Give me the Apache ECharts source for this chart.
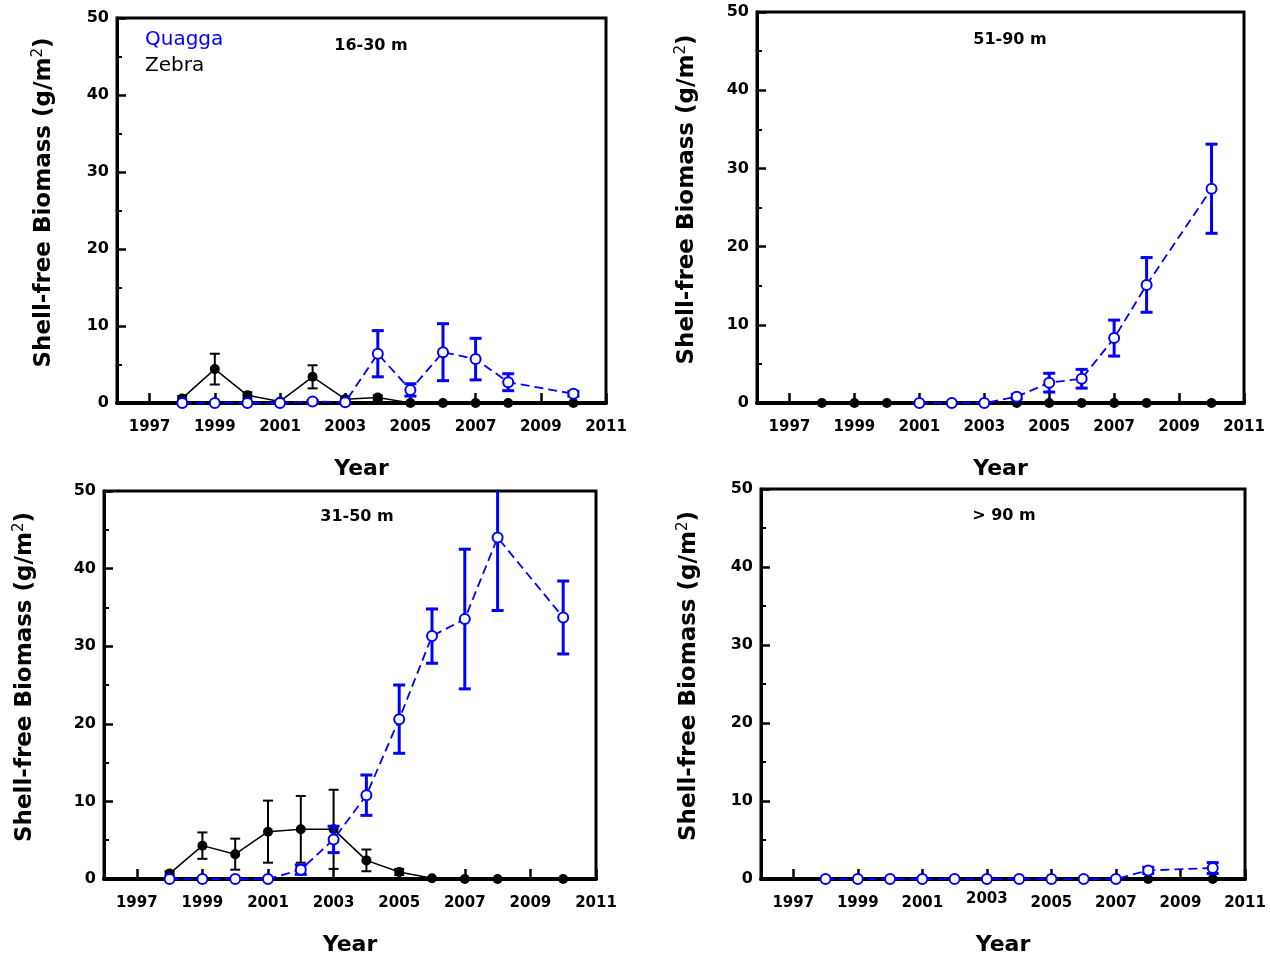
<!DOCTYPE html>
<html><head><meta charset="utf-8">
<script src="https://cdn.jsdelivr.net/npm/echarts@6/dist/echarts.min.js"></script>
<style>html,body{margin:0;padding:0;background:#fff}#c{width:1270px;height:961px}</style>
</head><body><div id="c"></div>
<script>
// ---- data ----
const years = [1998,1999,2000,2001,2002,2003,2004,2005,2006,2007,2008,2010];
const xTickYears = [1997,1999,2001,2003,2005,2007,2009,2011];
const panelTitles = ['16-30 m','51-90 m','31-50 m','> 90 m'];
const legendNames = ['Quagga','Zebra'];
const yAxisTitle = 'Shell-free Biomass (g/m{s|2})';
const xAxisTitle = 'Year';

// 16-30 m
const zebra16     = [0.6, 4.4, 1.0, 0.2, 3.4, 0.5, 0.7, 0, 0, 0, 0, 0];
const zebra16Err  = [0.3, 2.0, 0.4, 0, 1.5, 0.3, 0.3, 0, 0, 0, 0, 0];
const quagga16    = [0, 0, 0, 0, 0.2, 0.1, 6.4, 1.7, 6.6, 5.7, 2.7, 1.2];
const quagga16Err = [0, 0, 0, 0, 0.1, 0, 3.0, 0.8, 3.7, 2.7, 1.1, 0.3];
// 51-90 m
const zebra51     = [0, 0, 0, 0, 0, 0, 0, 0, 0, 0, 0, 0];
const zebra51Err  = [0, 0, 0, 0, 0, 0, 0, 0, 0, 0, 0, 0];
const quagga51    = [null, null, null, 0, 0, 0, 0.8, 2.6, 3.1, 8.3, 15.1, 27.4];
const quagga51Err = [0, 0, 0, 0, 0, 0, 0.3, 1.2, 1.2, 2.3, 3.5, 5.7];
// 31-50 m
const zebra31     = [0.7, 4.3, 3.2, 6.1, 6.4, 6.4, 2.4, 0.9, 0.1, 0, 0, 0];
const zebra31Err  = [0.3, 1.7, 2.0, 4.0, 4.3, 5.1, 1.4, 0.4, 0, 0, 0, 0];
const quagga31    = [0, 0, 0, 0, 1.2, 5.1, 10.8, 20.6, 31.3, 33.5, 44.0, 33.7];
const quagga31Err = [0, 0, 0, 0, 0.6, 1.7, 2.6, 4.4, 3.5, 9.0, 9.4, 4.7];
// > 90 m
const zebra90     = [0, 0, 0, 0, 0, 0, 0, 0, 0, 0, 0, 0];
const zebra90Err  = [0, 0, 0, 0, 0, 0, 0, 0, 0, 0, 0, 0];
const quagga90    = [0, 0, 0, 0, 0, 0, 0, 0, 0, 0, 1.1, 1.4];
const quagga90Err = [0, 0, 0, 0, 0, 0, 0, 0, 0, 0, 0.4, 0.7];

const panelsData = [
  {z: zebra16, ze: zebra16Err, q: quagga16, qe: quagga16Err},
  {z: zebra51, ze: zebra51Err, q: quagga51, qe: quagga51Err},
  {z: zebra31, ze: zebra31Err, q: quagga31, qe: quagga31Err},
  {z: zebra90, ze: zebra90Err, q: quagga90, qe: quagga90Err}
];

// ---- layout / style ----
const BLUE = '#0000ff';
const FONT = 'DejaVu Sans';
const YMIN = 0, YMAX = 50;
const grids = [
  {left: 117, top: 18, width: 489, height: 385},
  {left: 757, top: 12, width: 487, height: 391},
  {left: 104, top: 491, width: 492, height: 388},
  {left: 761, top: 489, width: 484, height: 390}
];
const yNameGaps = [59, 56, 65, 58];
const titlePos = [[371, 46], [1010, 40], [357, 517], [1004, 516]];

function pairs(vals) {
  const out = [];
  years.forEach((yr, i) => { if (vals[i] !== null) out.push([yr, vals[i]]); });
  return out;
}
function triples(vals, errs) {
  const out = [];
  years.forEach((yr, i) => { if (vals[i] !== null && errs[i] > 0) out.push([yr, vals[i], errs[i]]); });
  return out;
}
function errRender(color, lw, capHalf) {
  return function (params, api) {
    const x = api.value(0), y = api.value(1), e = api.value(2);
    const hi = Math.min(y + e, YMAX), lo = Math.max(y - e, YMIN);
    const pHi = api.coord([x, hi]), pLo = api.coord([x, lo]);
    const st = {stroke: color, lineWidth: lw};
    const ch = [{type: 'line', shape: {x1: pHi[0], y1: pHi[1], x2: pLo[0], y2: pLo[1]}, style: st}];
    if (y + e <= YMAX) ch.push({type: 'line', shape: {x1: pHi[0] - capHalf, y1: pHi[1], x2: pHi[0] + capHalf, y2: pHi[1]}, style: st});
    if (y - e >= YMIN) ch.push({type: 'line', shape: {x1: pLo[0] - capHalf, y1: pLo[1], x2: pLo[0] + capHalf, y2: pLo[1]}, style: st});
    return {type: 'group', children: ch};
  };
}

const option = {
  animation: false,
  backgroundColor: '#fff',
  grid: grids.map(g => Object.assign({show: true, borderColor: '#000', borderWidth: 3, backgroundColor: 'transparent'}, g)),
  xAxis: [], yAxis: [], series: [], graphic: []
};

grids.forEach((g, k) => {
  option.xAxis.push({
    type: 'value', gridIndex: k, min: 1996, max: 2011,
    name: xAxisTitle, nameLocation: 'middle', nameGap: 55,
    nameTextStyle: {fontFamily: FONT, fontSize: 22, fontWeight: 'bold', color: '#000'},
    axisLine: {show: true, onZero: false, lineStyle: {color: '#000', width: 4}},
    axisTick: {show: true, inside: true, length: 10, customValues: xTickYears, lineStyle: {color: '#000', width: 2.5}},
    axisLabel: {
      customValues: xTickYears, margin: 13, lineHeight: 23,
      fontFamily: FONT, fontSize: 15, fontWeight: 'bold', color: '#000',
      formatter: v => (k === 3 && v === 2003) ? '{r|2003}' : String(v),
      rich: {r: {fontFamily: FONT, fontSize: 15, fontWeight: 'bold', color: '#000', lineHeight: 15}}
    },
    splitLine: {show: false}
  });
  option.yAxis.push({
    type: 'value', gridIndex: k, min: YMIN, max: YMAX, interval: 10,
    name: yAxisTitle, nameLocation: 'middle', nameGap: yNameGaps[k],
    nameTextStyle: {fontFamily: FONT, fontSize: 23, fontWeight: 'bold', color: '#000', padding: [0, 0, 0, 16],
      rich: {s: {fontFamily: FONT, fontSize: 15, fontWeight: 'normal', color: '#000', verticalAlign: 'top', padding: [0, 0, 12, 0]}}},
    axisLine: {show: true, onZero: false, lineStyle: {color: '#000', width: 3}},
    axisTick: {show: true, inside: true, length: 9, lineStyle: {color: '#000', width: 2.5}},
    minorTick: {show: true, splitNumber: 2, length: 5, lineStyle: {color: '#000', width: 2}},
    minorSplitLine: {show: false},
    axisLabel: {margin: 8, fontFamily: FONT, fontSize: 16, fontWeight: 'bold', color: '#000'},
    splitLine: {show: false}
  });
  const d = panelsData[k];
  option.series.push({
    type: 'custom', xAxisIndex: k, yAxisIndex: k, z: 2,
    renderItem: errRender('#000', 2, 5), data: triples(d.z, d.ze), silent: true
  });
  option.series.push({
    type: 'line', xAxisIndex: k, yAxisIndex: k, z: 3, name: legendNames[1],
    data: pairs(d.z), symbol: 'circle', symbolSize: 10, showAllSymbol: true,
    itemStyle: {color: '#000'}, lineStyle: {color: '#000', width: 1.5}, silent: true
  });
  option.series.push({
    type: 'custom', xAxisIndex: k, yAxisIndex: k, z: 4,
    renderItem: errRender(BLUE, 3, 6), data: triples(d.q, d.qe), silent: true
  });
  option.series.push({
    type: 'line', xAxisIndex: k, yAxisIndex: k, z: 5, name: legendNames[0],
    data: pairs(d.q), symbol: 'circle', symbolSize: 10, showAllSymbol: true,
    itemStyle: {color: '#fff', borderColor: BLUE, borderWidth: 2},
    lineStyle: {color: BLUE, width: 1.8, type: [9, 5]}, silent: true
  });
  option.graphic.push({
    type: 'text', x: titlePos[k][0], y: titlePos[k][1], z: 10,
    style: {text: panelTitles[k], fontFamily: FONT, fontSize: 16, fontWeight: 'bold', fill: '#000', textAlign: 'center', textVerticalAlign: 'middle'}
  });
});
option.graphic.push({type: 'text', left: 145, top: 30, z: 10,
  style: {text: legendNames[0], fontFamily: FONT, fontSize: 20, fill: BLUE}});
option.graphic.push({type: 'text', left: 145, top: 56, z: 10,
  style: {text: legendNames[1], fontFamily: FONT, fontSize: 20, fill: '#000'}});

const chart = echarts.init(document.getElementById('c'));
chart.setOption(option);
</script>
</body></html>
